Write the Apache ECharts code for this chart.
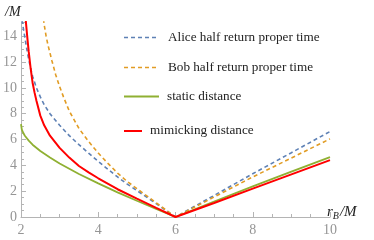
<!DOCTYPE html>
<html><head><meta charset="utf-8">
<script src="https://cdn.jsdelivr.net/npm/echarts@6/dist/echarts.min.js"></script>
<style>html,body{margin:0;padding:0;background:#fff}#c{width:374px;height:240px}</style>
</head><body><div id="c"></div>
<script>
// x-axis ticks and y-axis ticks
const xTicks = [2, 4, 6, 8, 10];
const yTicks = [0, 2, 4, 6, 8, 10, 12, 14];

// Alice half return proper time (blue dashed)
const aliceR = [2, 2.05, 2.1, 2.15, 2.2, 2.25, 2.3, 2.4, 2.5, 2.6, 2.75, 3, 3.25, 3.5, 3.75, 4, 4.25, 4.5, 4.75, 5, 5.5, 6, 7, 8, 9, 10];
const aliceV = [15.8, 14.8, 13.9, 13.0, 12.2, 11.5, 10.9, 10.0, 9.3, 8.7, 8.0, 7.1, 6.3, 5.6, 4.95, 4.3, 3.7, 3.1, 2.55, 2.05, 1.03, 0, 1.67, 3.35, 4.98, 6.62];

// Bob half return proper time (orange dashed)
const bobR = [2.5, 2.55, 2.6, 2.65, 2.7, 2.8, 2.9, 3, 3.1, 3.25, 3.5, 3.75, 4, 4.25, 4.5, 4.75, 5, 5.5, 6, 7, 8, 9, 10];
const bobV = [17.5, 16.1, 14.9, 14.0, 13.3, 12.1, 11.0, 10.1, 9.3, 8.2, 6.85, 5.85, 4.95, 4.15, 3.4, 2.75, 2.2, 1.1, 0, 1.55, 3.1, 4.57, 6.05];

// static distance (green)
const staticR = [2, 2.02, 2.05, 2.1, 2.2, 2.3, 2.5, 2.75, 3, 3.5, 4, 4.5, 5, 5.5, 6, 7, 8, 9, 10];
const staticV = [7.19, 6.79, 6.56, 6.29, 5.91, 5.60, 5.11, 4.60, 4.14, 3.33, 2.60, 1.91, 1.26, 0.62, 0, 1.20, 2.37, 3.51, 4.64];

// mimicking distance (red)
const mimicR = [2.06, 2.1, 2.13, 2.17, 2.2, 2.25, 2.3, 2.35, 2.4, 2.5, 2.6, 2.75, 3, 3.25, 3.5, 3.75, 4, 4.5, 5, 5.5, 6, 7, 8, 9, 10];
const mimicV = [17.9, 16.1, 15.0, 13.7, 12.8, 11.5, 10.4, 9.65, 9.0, 7.85, 7.1, 6.3, 5.35, 4.6, 3.95, 3.45, 3.0, 2.15, 1.42, 0.7, 0, 1.08, 2.2, 3.3, 4.4];

const names = ['Alice half return proper time', 'Bob half return proper time', 'static distance', 'mimicking distance'];
const colors = ['#5E81B5', '#E19C24', '#8FB032', '#FF0000'];

const zip = (a, b) => a.map((x, i) => [x, b[i]]);
const serif = 'Liberation Serif';
const chart = echarts.init(document.getElementById('c'), null, {renderer: 'canvas'});
const axisCol = '#b4b4b4';
const labCol = '#959595';

function legendRow(y, x1, x2, tx, color, dashed, name, w) {
  return [
    {type: 'line', shape: {x1: x1, y1: y, x2: x2, y2: y},
     style: {stroke: color, lineWidth: w, lineDash: dashed ? [4, 3] : null}},
    {type: 'text', x: tx, y: y, style: {text: name, fill: '#222', font: '13.2px "' + serif + '"', textVerticalAlign: 'middle'}}
  ];
}

chart.setOption({
  animation: false,
  grid: {left: 16, right: 44, top: 22, bottom: 23},
  xAxis: {
    type: 'value', min: xTicks[0], max: xTicks[xTicks.length - 1], interval: 2,
    axisLine: {lineStyle: {color: axisCol, width: 1}},
    axisTick: {inside: true, length: 5, lineStyle: {color: axisCol}},
    minorTick: {show: true, splitNumber: 4, length: 3, lineStyle: {color: axisCol}},
    splitLine: {show: false},
    axisLabel: {color: labCol, fontFamily: serif, fontSize: 14, margin: 6}
  },
  yAxis: {
    type: 'value', min: yTicks[0], max: 15.1, interval: 2,
    axisLine: {show: true, lineStyle: {color: axisCol, width: 1}},
    axisTick: {show: true, inside: true, length: 5, lineStyle: {color: axisCol}},
    minorTick: {show: true, splitNumber: 4, length: 3, lineStyle: {color: axisCol}},
    splitLine: {show: false},
    axisLabel: {color: labCol, fontFamily: serif, fontSize: 14, margin: 4, showMaxLabel: false}
  },
  series: [
    {name: names[0], type: 'line', data: zip(aliceR, aliceV), showSymbol: false, clip: true,
     lineStyle: {color: colors[0], width: 1.6, type: [4, 3]}, z: 3},
    {name: names[1], type: 'line', data: zip(bobR, bobV), showSymbol: false, clip: true,
     lineStyle: {color: colors[1], width: 1.6, type: [4, 3]}, z: 3},
    {name: names[2], type: 'line', data: zip(staticR, staticV), showSymbol: false, clip: true,
     lineStyle: {color: colors[2], width: 1.8}, z: 2},
    {name: names[3], type: 'line', data: zip(mimicR, mimicV), showSymbol: false, clip: true,
     lineStyle: {color: colors[3], width: 2}, z: 4}
  ],
  graphic: [].concat(
    legendRow(37.5, 124, 158, 168, colors[0], true, names[0], 1.6),
    legendRow(67.5, 124, 158, 168, colors[1], true, names[1], 1.6),
    legendRow(96.5, 124, 159, 167, colors[2], false, names[2], 1.8),
    legendRow(131, 124, 142, 150, colors[3], false, names[3], 2),
    [
      {type: 'text', x: 5, y: 12, style: {text: '/M', fill: '#222', font: 'italic 14px "' + serif + '"', textVerticalAlign: 'middle'}},
      {type: 'text', x: 327, y: 212, style: {
        rich: {
          r: {fontFamily: serif, fontStyle: 'italic', fontSize: 15, fill: '#222'},
          s: {fontFamily: serif, fontStyle: 'italic', fontSize: 10, fill: '#222', padding: [8, 1, 0, 0]},
          m: {fontFamily: serif, fontStyle: 'italic', fontSize: 15, fill: '#222'}
        },
        text: '{r|r}{s|B}{m|/M}', textVerticalAlign: 'middle'}}
    ]
  )
});
</script></body></html>
